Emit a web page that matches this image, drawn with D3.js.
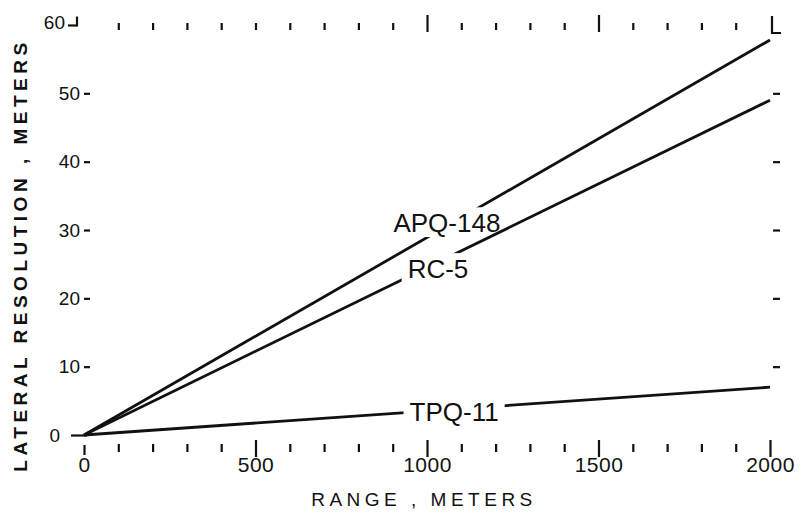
<!DOCTYPE html>
<html>
<head>
<meta charset="utf-8">
<script src="https://cdn.jsdelivr.net/npm/d3@7"></script>
<style>
  body { margin: 0; background: #fff; }
  text { font-family: "Liberation Sans", Arial, sans-serif; fill: #111; }
  .tick line { stroke: #111; stroke-width: 2.2; }
</style>
</head>
<body>
<svg id="chart" width="807" height="517"></svg>
<script>
// range (meters) at the two ends of every line
const rangeValues = [0, 2000];
// lateral resolution (meters)
const apq148 = [0, 57.8];
const rc5 = [0, 49];
const tpq11 = [0, 7];
const seriesNames = ["APQ-148", "RC-5", "TPQ-11"];

const xMajorTicks = [0, 500, 1000, 1500, 2000];
const xMinorTicks = [100, 200, 300, 400, 600, 700, 800, 900, 1100, 1200, 1300, 1400, 1600, 1700, 1800, 1900];
const topMinorTicks = [100, 200, 300, 400, 500, 600, 700, 800, 900, 1100, 1200, 1300, 1400, 1600, 1700, 1800, 1900];
const topMajorTicks = [1000, 1500];
const yTicks = [0, 10, 20, 30, 40, 50, 60];
const yRightTicks = [10, 20, 30, 40, 50];

// where each in-line label sits (data units)
const labelSpots = [[1058, 29.7], [1032, 23], [1079, 2.05]];

const svg = d3.select("#chart");
const x = d3.scaleLinear().domain([0, 2000]).range([84, 770]);
const y = d3.scaleLinear().domain([0, 60]).range([435, 25]);

const noDomain = g => g.select(".domain").remove();

// bottom minor ticks
svg.append("g")
    .attr("transform", "translate(0,444)")
    .call(d3.axisBottom(x).tickValues(xMinorTicks).tickSize(8).tickFormat(""))
    .call(noDomain);

// bottom major ticks + labels
svg.append("g")
    .attr("transform", "translate(0,440)")
    .call(d3.axisBottom(x).tickValues(xMajorTicks).tickSize(17).tickPadding(0).tickFormat(d3.format("d")))
    .call(noDomain)
    .call(g => g.selectAll("text").style("font-size", "21px").style("letter-spacing", "0.5px"))
    .call(g => g.selectAll(".tick").filter(d => d === 0).select("line").attr("y1", 5).attr("y2", 15));

// top minor ticks
svg.append("g")
    .attr("transform", "translate(0,30)")
    .call(d3.axisTop(x).tickValues(topMinorTicks).tickSize(7).tickFormat(""))
    .call(noDomain);

// top major ticks
svg.append("g")
    .attr("transform", "translate(0,32)")
    .call(d3.axisTop(x).tickValues(topMajorTicks).tickSize(17).tickFormat(""))
    .call(noDomain);

// top-right corner
svg.append("path")
    .attr("d", `M${x(2000) + 2},16 V33 H${x(2000) + 11}`)
    .attr("fill", "none").attr("stroke", "#111").attr("stroke-width", 2.2);

// left axis
svg.append("g")
    .attr("transform", "translate(90,0)")
    .call(d3.axisLeft(y).tickValues(yTicks).tickSize(6).tickPadding(4))
    .call(noDomain)
    .call(g => g.selectAll("text").style("font-size", "19px"))
    .call(g => {
      const zero = g.selectAll(".tick").filter(d => d === 0);
      zero.select("line").attr("x1", -3).attr("x2", -19);
      zero.select("text").attr("x", -30);
      const top = g.selectAll(".tick").filter(d => d === 60);
      top.select("line").attr("x1", -13).attr("x2", -22);
      top.append("line").attr("x1", -13).attr("x2", -13).attr("y1", -9).attr("y2", 1);
      top.select("text").attr("x", -25).attr("dy", "0.2em");
    });

// right axis
svg.append("g")
    .attr("transform", "translate(773,0)")
    .call(d3.axisRight(y).tickValues(yRightTicks).tickSize(7).tickFormat(""))
    .call(noDomain);

// in-line labels; each one cuts a gap only in its own line
const series = [apq148, rc5, tpq11];
const defs = svg.append("defs");
const labels = svg.append("g");
const fs = 26;
seriesNames.forEach((name, i) => {
  const tx = x(labelSpots[i][0]), ty = y(labelSpots[i][1]);
  const t = labels.append("text")
      .attr("x", tx)
      .attr("y", ty)
      .attr("text-anchor", "middle")
      .style("font-size", fs + "px")
      .text(name);
  const b = t.node().getBBox();
  const m = defs.append("mask").attr("id", "gap" + i).attr("maskUnits", "userSpaceOnUse")
      .attr("x", 0).attr("y", 0).attr("width", 807).attr("height", 517);
  m.append("rect").attr("width", 807).attr("height", 517).attr("fill", "#fff");
  m.append("rect")
      .attr("x", b.x - 6).attr("y", ty - fs * 0.72 - 6)
      .attr("width", b.width + 12).attr("height", fs * 0.72 + 11)
      .attr("fill", "#000");
});

// lines
const line = d3.line()
    .x((d, i) => x(rangeValues[i]))
    .y(d => y(d));

svg.insert("g", "g")
  .selectAll("path")
  .data(series)
  .join("path")
    .attr("d", line)
    .attr("mask", (d, i) => `url(#gap${i})`)
    .attr("fill", "none")
    .attr("stroke", "#111")
    .attr("stroke-width", 2.8);

// axis titles
svg.append("text")
    .attr("transform", "translate(27,255) rotate(-90)")
    .attr("text-anchor", "middle")
    .style("font-size", "19px")
    .style("font-weight", "bold")
    .style("letter-spacing", "4.5px")
    .text("LATERAL RESOLUTION , METERS");

svg.append("text")
    .attr("x", 424)
    .attr("y", 506)
    .attr("text-anchor", "middle")
    .style("font-size", "19px")
    .style("letter-spacing", "4.5px")
    .text("RANGE , METERS");
</script>
</body>
</html>
